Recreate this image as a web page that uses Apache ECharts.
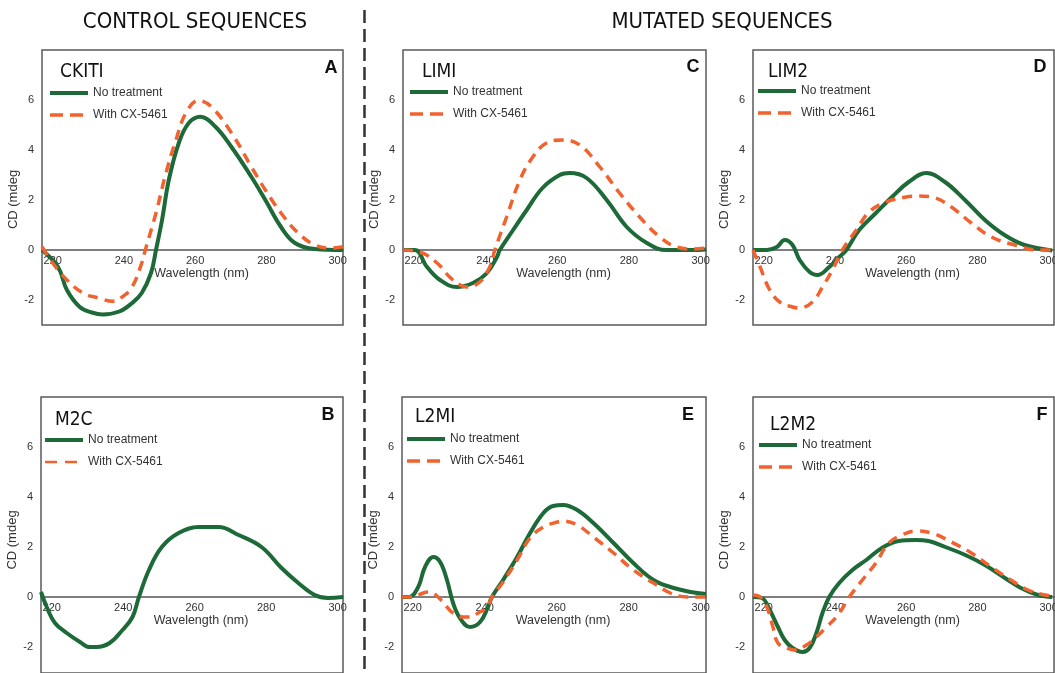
<!DOCTYPE html>
<html><head><meta charset="utf-8">
<script src="https://cdn.jsdelivr.net/npm/echarts@6/dist/echarts.min.js"></script>
<style>html,body{margin:0;padding:0;background:#fff}#c{width:1055px;height:673px}</style>
</head><body><div id="c"></div>
<script>
// ---------- data ----------
const xTicks = [220, 240, 260, 280, 300];
const yTicks = [-2, 0, 2, 4, 6];
const seriesNames = ['No treatment', 'With CX-5461'];
const headers = ['CONTROL SEQUENCES', 'MUTATED SEQUENCES'];
const panelNames = ['CKITI', 'M2C', 'LIMI', 'L2MI', 'LIM2', 'L2M2'];
const panelLetters = ['A', 'B', 'C', 'E', 'D', 'F'];
const xAxisName = 'Wavelength (nm)';
const yAxisName = 'CD (mdeg';

const A_none = [[217,0],[221.5,-0.68],[224,-1.6],[227.6,-2.28],[231,-2.5],[234,-2.58],[238.7,-2.46],[242.3,-2.12],[245,-1.72],[247.6,-0.92],[249,0],[250.7,1.2],[252.6,2.8],[255.4,4.28],[258.2,5.08],[261.5,5.33],[265.7,4.93],[270.2,4.12],[275.8,2.92],[279.7,2.0],[284.1,0.92],[288,0.28],[293.6,0.04],[301.5,0]];
const A_cx = [[217,0.13],[220,-0.52],[224,-1.2],[228.5,-1.72],[233,-1.92],[236.8,-2.05],[239.5,-1.88],[242.3,-1.48],[245,-0.52],[246,0],[249,1.48],[251.8,3.08],[254.6,4.4],[257.4,5.48],[261,5.98],[264.6,5.72],[270.2,4.68],[275.8,3.32],[279.7,2.4],[284.1,1.48],[288.9,0.68],[293.6,0.2],[298,0.08],[301.5,0.13]];
const B_none = [[217,0.2],[218.6,-0.4],[220.9,-1.04],[224.2,-1.44],[227.9,-1.8],[230.6,-2.0],[232.5,-2.0],[236.2,-1.84],[239.8,-1.32],[242.6,-0.8],[244.4,0],[247.2,1.08],[250.8,2.0],[255.5,2.56],[261.1,2.8],[266.7,2.8],[272.3,2.48],[278.7,2.0],[284.3,1.16],[289,0.56],[293.6,0.08],[297.3,-0.04],[301.5,0]];
const B_cx = [];
const C_none = [[217,0],[220.3,0],[223.7,-0.68],[227.3,-1.2],[232,-1.48],[236.5,-1.32],[240.4,-0.92],[243.2,-0.28],[244,0],[247.7,0.8],[251.5,1.6],[255.9,2.48],[260.7,3.0],[263.5,3.08],[268.2,2.88],[273.8,2.0],[279.4,0.92],[285,0.28],[290.5,0],[298,0],[301.5,0.02]];
const C_cx = [[217,0],[221.7,-0.08],[226.5,-0.52],[230,-1.08],[232.9,-1.4],[234.8,-1.48],[238.4,-1.28],[241.2,-0.68],[242.6,0],[245.9,1.32],[249.6,2.8],[253.2,3.72],[257,4.28],[261.5,4.4],[266.3,4.2],[271.9,3.32],[277.4,2.28],[283,1.32],[288.6,0.52],[293.3,0.12],[298,0.04],[301.5,0.08]];
const D_none = [[217,0],[220.9,0],[223.7,0.12],[225.9,0.4],[228.1,0.2],[230.1,-0.4],[232.9,-0.88],[235.1,-1.0],[238.4,-0.68],[241.2,-0.28],[243.2,0],[246.8,0.8],[251.5,1.48],[256,2.12],[260.7,2.72],[265.7,3.08],[270.9,2.72],[276.5,2.0],[282.1,1.2],[287.6,0.6],[293.2,0.2],[301,-0.02]];
const D_cx = [[217,0],[219,-0.68],[221.7,-1.6],[224.5,-2.08],[228.1,-2.28],[230,-2.32],[233.7,-2.08],[236.5,-1.48],[239.3,-0.8],[242.1,0],[246,0.8],[249.6,1.52],[254.3,1.92],[259.9,2.12],[263.5,2.16],[268.2,2.08],[272.7,1.72],[278.3,1.08],[283.9,0.52],[290.5,0.2],[297,0],[301,0]];
const E_none = [[217,0],[219,0],[221.5,0.4],[223.4,1.2],[225.7,1.6],[227.6,1.4],[229.5,0.68],[231.2,-0.24],[233.1,-0.84],[235.9,-1.2],[238.7,-1.0],[240.9,-0.4],[242,0],[245.1,0.68],[249,1.6],[252.6,2.56],[256.3,3.36],[259,3.64],[261.8,3.68],[265.7,3.48],[270.2,2.96],[275.8,2.16],[281.3,1.36],[286.9,0.68],[291.6,0.4],[297.2,0.2],[301.5,0.12]];
const E_cx = [[217,0],[220,0],[222.9,0.16],[224.8,0.2],[227,0],[229.5,-0.4],[231.2,-0.64],[234,-0.8],[235.9,-0.8],[238.2,-0.64],[240.7,-0.4],[242,0],[245.1,0.6],[249,1.48],[252.6,2.36],[256.3,2.8],[260.2,3.0],[261.8,3.04],[265.7,2.88],[270.2,2.4],[275.8,1.76],[281.3,1.08],[286.9,0.56],[291.6,0.16],[296.3,0],[301.5,0]];
const F_none = [[217,0],[219.5,-0.04],[221.7,-0.52],[224,-1.2],[225.9,-1.72],[228.1,-2.04],[230.9,-2.2],[232.9,-2.04],[234.8,-1.44],[236.5,-0.64],[238.4,0],[241.2,0.56],[244.9,1.08],[248.8,1.48],[253.2,1.96],[257.9,2.24],[262.7,2.28],[266.3,2.24],[271,2.0],[276.6,1.68],[282.1,1.28],[287.7,0.76],[292.2,0.36],[297,0.08],[301,0]];
const F_cx = [[217,0.08],[219,0],[220.9,-0.4],[222.6,-1.2],[224,-1.84],[226.5,-2.04],[228.7,-2.12],[232,-1.92],[234.8,-1.6],[237.6,-1.2],[240.4,-0.8],[243.2,-0.2],[244,0],[247.7,0.68],[251.5,1.36],[255.1,2.16],[258.8,2.48],[262.7,2.64],[267.1,2.56],[272.7,2.2],[278.3,1.76],[283.9,1.2],[289.4,0.68],[294.2,0.28],[298.9,0.08],[301,0.05]];

// ---------- layout ----------
const GREEN = '#1d6a38', ORANGE = '#f2622e', INK = '#333';
const FONT = 'Liberation Sans, Arial, sans-serif';
const HAND = '"DejaVu Sans Condensed", "Liberation Sans Narrow", "DejaVu Sans", sans-serif';
const panels = [
  {none:A_none, cx:A_cx, grid:{left:42, top:50, width:301, height:275}, ymin:-3, ymax:8, name:0, nameXY:[60,72], letterXY:[331,68], legXY:[50,86], yPad:24},
  {none:B_none, cx:B_cx, grid:{left:41, top:397, width:302, height:276}, ymin:-3.04, ymax:8, name:1, nameXY:[55,420], letterXY:[328,415], legXY:[45,433], yPad:10},
  {none:C_none, cx:C_cx, grid:{left:403, top:50, width:303, height:275}, ymin:-3, ymax:8, name:2, nameXY:[422,72], letterXY:[693,67], legXY:[410,85], yPad:24},
  {none:E_none, cx:E_cx, grid:{left:402, top:397, width:304, height:276}, ymin:-3.04, ymax:8, name:3, nameXY:[415,417], letterXY:[688,415], legXY:[407,432], yPad:10},
  {none:D_none, cx:D_cx, grid:{left:753, top:50, width:301, height:275}, ymin:-3, ymax:8, name:4, nameXY:[768,72], letterXY:[1040,67], legXY:[758,84], yPad:24},
  {none:F_none, cx:F_cx, grid:{left:753, top:397, width:301, height:276}, ymin:-3.04, ymax:8, name:5, nameXY:[770,425], letterXY:[1042,415], legXY:[759,438], yPad:10}
];

const grid = [], xAxis = [], yAxis = [], series = [], legend = [], graphic = [];
panels.forEach((p, i) => {
  grid.push(Object.assign({show:true, borderColor:'#5a5a5a', borderWidth:1.5, backgroundColor:'transparent', containLabel:false, outerBoundsMode:'none'}, p.grid));
  // place the x axis on the zero line of the y scale
  const zeroOffset = -(0 - p.ymin) * p.grid.height / (p.ymax - p.ymin);
  xAxis.push({
    type:'value', gridIndex:i, min:217, max:301.5, position:'bottom', offset:zeroOffset,
    axisLine:{show:true, onZero:false, lineStyle:{color:'#555', width:1.5}},
    axisTick:{show:false}, splitLine:{show:false},
    axisLabel:{customValues:xTicks, color:INK, fontSize:11, fontFamily:FONT, margin:5, showMinLabel:true, showMaxLabel:true},
    name:xAxisName, nameLocation:'middle', nameGap:17,
    nameTextStyle:{color:INK, fontSize:12.5, fontFamily:FONT, padding:[0,0,0,18]}
  });
  yAxis.push({
    type:'value', gridIndex:i, min:p.ymin, max:p.ymax,
    axisLine:{show:false}, axisTick:{show:false}, splitLine:{show:false},
    axisLabel:{customValues:yTicks, color:INK, fontSize:11, fontFamily:FONT, margin:8},
    name:yAxisName, nameLocation:'middle', nameGap:16,
    nameTextStyle:{color:INK, fontSize:13, fontFamily:FONT, padding:[0,p.yPad,0,0]}
  });
  series.push({
    type:'line', name:seriesNames[0], xAxisIndex:i, yAxisIndex:i, data:p.none,
    smooth:0.4, symbol:'none', showSymbol:false, silent:true, z:2,
    lineStyle:{color:GREEN, width:4}, itemStyle:{color:GREEN}
  });
  series.push({
    type:'line', name:seriesNames[1], xAxisIndex:i, yAxisIndex:i, data:p.cx,
    smooth:0.4, symbol:'none', showSymbol:false, silent:true, z:3,
    lineStyle:{color:ORANGE, width:3.5, type:[10,7]}, itemStyle:{color:ORANGE}
  });
  legend.push({
    left:p.legXY[0] - 7, top:p.legXY[1] - 4, orient:'vertical', itemWidth:38, itemHeight:14, itemGap:10,
    selectedMode:false,
    textStyle:{color:INK, fontSize:12, fontFamily:FONT},
    data:[
      {name:seriesNames[0], itemStyle:{opacity:0}, lineStyle:{width:4, color:GREEN}},
      {name:seriesNames[1], itemStyle:{opacity:0}, lineStyle:{width: i===1 ? 2.5 : 3.5, color:ORANGE, type: i===1 ? [12,8] : [13,7]}}
    ]
  });
  graphic.push({type:'text', x:p.nameXY[0], y:p.nameXY[1], style:{text:panelNames[p.name], fill:'#111', font:'19px ' + HAND, align:'left', verticalAlign:'middle'}});
  graphic.push({type:'text', x:p.letterXY[0], y:p.letterXY[1], style:{text:panelLetters[i], fill:'#111', font:'bold 18px ' + FONT, align:'center', verticalAlign:'middle'}});
});
graphic.push({type:'text', x:195, y:22, style:{text:headers[0], fill:'#111', font:'22px ' + HAND, align:'center', verticalAlign:'middle'}});
graphic.push({type:'text', x:722, y:22, style:{text:headers[1], fill:'#111', font:'22px ' + HAND, align:'center', verticalAlign:'middle'}});
graphic.push({type:'line', shape:{x1:364.5, y1:10, x2:364.5, y2:673}, style:{stroke:'#333', lineWidth:2.5, lineDash:[13,6]}, silent:true});

const chart = echarts.init(document.getElementById('c'), null, {renderer:'canvas'});
chart.setOption({animation:false, backgroundColor:'#fff', grid, xAxis, yAxis, series, legend, graphic});
</script></body></html>
